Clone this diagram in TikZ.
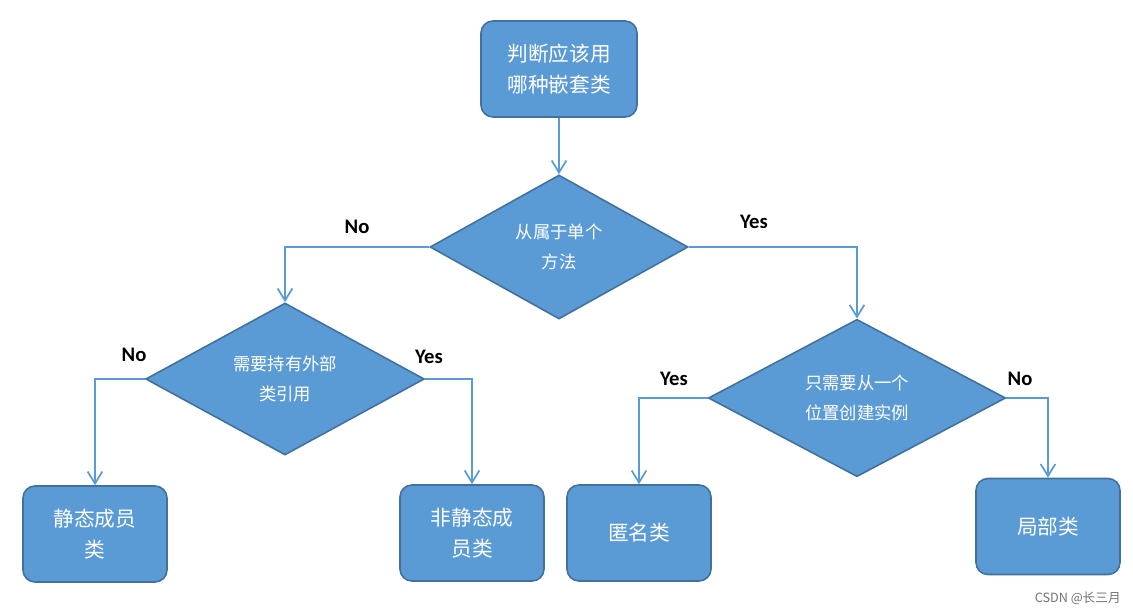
\documentclass[tikz,border=0pt]{standalone}
\usepackage{fontspec}
\newfontfamily\cjk{Noto Sans CJK SC}
\newfontfamily\lab{Carlito}
\usetikzlibrary{shapes.geometric,arrows.meta}
\definecolor{boxfill}{HTML}{5B9BD5}
\definecolor{boxline}{HTML}{41719C}
\definecolor{conn}{HTML}{5B9BD5}
\tikzset{
  px/.style={x=0.75pt,y=-0.75pt},
  rbox/.style={draw=boxline,line width=1.2pt,fill=boxfill,rounded corners=9pt,
    minimum width=108pt,minimum height=72pt,inner sep=0pt,align=center,
    text=white,font=\cjk\fontsize{15.5}{23}\selectfont},
  dbox/.style={diamond,draw=boxline,line width=1.2pt,fill=boxfill,inner sep=0pt,
    align=center,text=white,font=\cjk\fontsize{13}{23}\selectfont},
  arr/.style={draw=conn,line width=1.5pt,-{Straight Barb[length=9pt,width=11pt,line width=1.3pt]}},
  lbl/.style={font=\lab\bfseries\fontsize{15.5}{18}\selectfont,text=black,inner sep=0pt},
}
\begin{document}
\begin{tikzpicture}[px]
\useasboundingbox (0,0) rectangle (1133,614);
\node[rbox,minimum width=117pt] (top) at (559,69) {判断应该用\\哪种嵌套类};
\node[dbox,minimum width=193.5pt,minimum height=108pt] (d1) at (559,247) {从属于单个\\方法};
\node[dbox,minimum width=209pt,minimum height=114pt] (d2) at (285,379) {需要持有外部\\类引用};
\node[dbox,minimum width=223pt,minimum height=118pt] (d3) at (857,398) {只需要从一个\\位置创建实例};
\node[rbox] (b1) at (95,534) {静态成员\\类};
\node[rbox] (b2) at (472,533) {非静态成\\员类};
\node[rbox] (b3) at (639,533) {匿名类};
\node[rbox] (b4) at (1048,526.5) {局部类};
\draw[arr] (top.south) -- (d1.north);
\draw[arr] (d1.west) -| (d2.north);
\draw[arr] (d1.east) -| (d3.north);
\draw[arr] (d2.west) -| (b1.north);
\draw[arr] (d2.east) -| (b2.north);
\draw[arr] (d3.west) -| (b3.north);
\draw[arr] (d3.east) -| (b4.north);
\node[lbl] (l1) at (357,227) {No};
\node[lbl] (l2) at (754,222) {Yes};
\node[lbl] (l3) at (134,355) {No};
\node[lbl] (l4) at (429,357) {Yes};
\node[lbl] (l5) at (674,379) {Yes};
\node[lbl] (l6) at (1020,379) {No};
\node[font=\cjk\fontsize{9.5}{11}\selectfont,text=black!55,anchor=east,inner sep=0pt] (wm) at (1121,598) {CSDN @长三月};
\end{tikzpicture}
\end{document}
